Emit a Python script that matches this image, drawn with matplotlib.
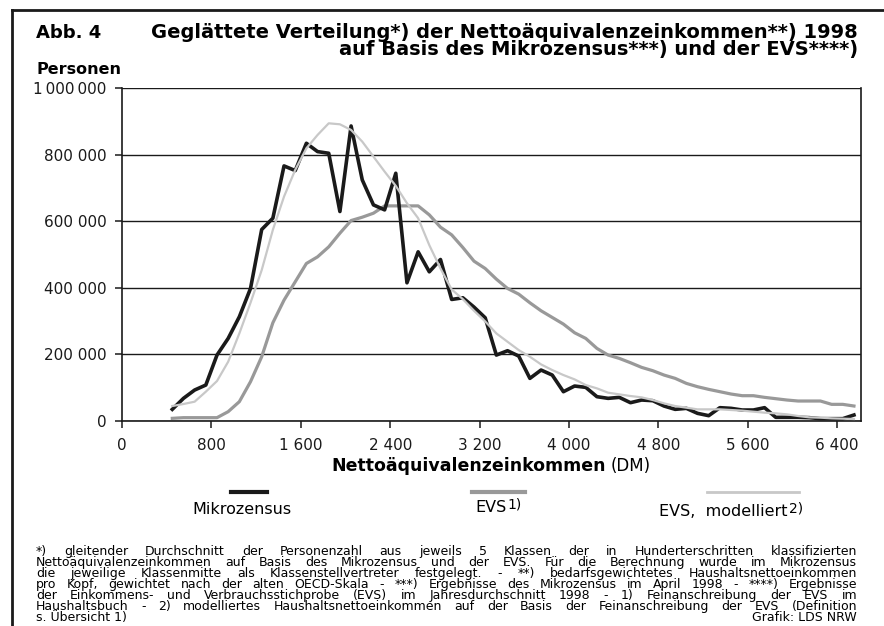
import matplotlib
matplotlib.use("Agg")
import matplotlib.pyplot as plt
from matplotlib.lines import Line2D
from matplotlib.ticker import FuncFormatter

plt.rcParams['font.family'] = ['DejaVu Sans']

# Einkommensklassen (Klassenmitte, DM)
einkommen = [450, 550, 650, 750, 850, 950, 1050, 1150, 1250, 1350,
             1450, 1550, 1650, 1750, 1850, 1950, 2050, 2150, 2250, 2350,
             2450, 2550, 2650, 2750, 2850, 2950, 3050, 3150, 3250, 3350,
             3450, 3550, 3650, 3750, 3850, 3950, 4050, 4150, 4250, 4350,
             4450, 4550, 4650, 4750, 4850, 4950, 5050, 5150, 5250, 5350,
             5450, 5550, 5650, 5750, 5850, 5950, 6050, 6150, 6250, 6350,
             6450, 6550]

# Personen in Tausend
mikrozensus = [35, 68, 93, 108, 198, 248, 313, 398, 575, 609,
               766, 752, 834, 809, 804, 629, 886, 724, 649, 634,
               744, 415, 508, 448, 485, 365, 370, 342, 310, 198,
               211, 195, 128, 153, 138, 88, 105, 101, 73, 68,
               71, 55, 63, 61, 45, 35, 38, 23, 16, 40,
               38, 33, 33, 40, 11, 11, 11, 10, 7, 7,
               7, 18]
evs = [8, 10, 10, 10, 10, 28, 58, 118, 193, 295,
       363, 418, 473, 493, 523, 564, 602, 612, 624, 646,
       646, 646, 646, 619, 582, 559, 521, 480, 458, 426,
       398, 381, 355, 331, 311, 291, 265, 248, 218, 198,
       188, 175, 161, 151, 138, 128, 113, 103, 95, 88,
       81, 76, 76, 71, 67, 63, 60, 60, 60, 50,
       50, 45]
evs_modelliert = [45, 51, 58, 88, 120, 178, 263, 355, 453, 574,
                  674, 754, 819, 859, 894, 891, 874, 839, 794, 749,
                  706, 654, 609, 528, 458, 395, 366, 331, 299, 263,
                  238, 213, 193, 170, 153, 138, 125, 108, 98, 85,
                  80, 75, 71, 63, 53, 45, 40, 35, 35, 35,
                  33, 31, 28, 25, 23, 20, 15, 11, 10, 8,
                  7, 6]

W, H = 884, 626
fig = plt.figure(figsize=(W / 100, H / 100), dpi=100)
renderer = fig.canvas.get_renderer()

def fx(px):
    return px / W

def fy(py):
    return 1 - py / H

def breite(t):
    return t.get_window_extent(renderer).width

ax = fig.add_axes([fx(122), fy(421), fx(861) - fx(122), fy(88) - fy(421)])

tsd = lambda vals: [v * 1000 for v in vals]
ax.plot(einkommen, tsd(evs), color='#999999', lw=2.3, zorder=3)
ax.plot(einkommen, tsd(mikrozensus), color='#1a1a1a', lw=2.6, zorder=4)
ax.plot(einkommen, tsd(evs_modelliert), color='#c8c8c8', lw=1.6, zorder=5)

ax.set_xlim(0, 6613)
ax.set_ylim(0, 1000000)
ax.set_xticks(range(0, 6401, 800))
ax.set_yticks(range(0, 1000001, 200000))
sep = lambda v, pos: f"{int(v):,}".replace(",", "\u2009" if v >= 1000000 else " ")
ax.xaxis.set_major_formatter(FuncFormatter(lambda v, pos: f"{int(v):,}".replace(",", " ")))
ax.yaxis.set_major_formatter(FuncFormatter(sep))
ax.grid(axis='y', color='#1a1a1a', lw=1)
ax.set_axisbelow(True)
for s in ax.spines.values():
    s.set_color('#1a1a1a')
    s.set_linewidth(1.2)
ax.spines['top'].set_visible(False)
ax.tick_params(direction='out', length=5, width=1.1, labelsize=11, colors='#1a1a1a')
ax.tick_params(axis='y', pad=6)
ax.tick_params(axis='x', pad=7)

# Rahmen
fig.add_artist(Line2D([fx(12), 1], [fy(10), fy(10)], color='#1a1a1a', lw=2))
fig.add_artist(Line2D([fx(12), fx(12)], [fy(10), 0], color='#1a1a1a', lw=2))

# Titel
fig.text(fx(36), fy(33), "Abb. 4", fontsize=13, fontweight='bold', va='center')
fig.text(fx(858), fy(33), "Geglättete Verteilung*) der Nettoäquivalenzeinkommen**) 1998",
         fontsize=14, fontweight='bold', va='center', ha='right')
fig.text(fx(858), fy(50), "auf Basis des Mikrozensus***) und der EVS****)",
         fontsize=14, fontweight='bold', va='center', ha='right')
fig.text(fx(36), fy(69), "Personen", fontsize=11.5, fontweight='bold', va='center')

# Achsentitel
fig.text(fx(606), fy(466), "Nettoäquivalenzeinkommen", fontsize=12.5, fontweight='bold',
         va='center', ha='right')
fig.text(fx(611), fy(466), "(DM)", fontsize=12, va='center', ha='left')

# Legende
fig.add_artist(Line2D([fx(231), fx(267)], [fy(492), fy(492)], color='#1a1a1a', lw=3))
fig.text(fx(242), fy(509), "Mikrozensus", fontsize=11.5, va='center', ha='center')
fig.add_artist(Line2D([fx(472), fx(525)], [fy(492), fy(492)], color='#999999', lw=3))
t = fig.text(fx(475), fy(507), "EVS", fontsize=11.5, va='center', ha='left')
fig.text(fx(475 + breite(t) + 1), fy(504), "1)", fontsize=10, va='center', ha='left')
fig.add_artist(Line2D([fx(707), fx(799)], [fy(492), fy(492)], color='#c8c8c8', lw=2))
t = fig.text(fx(659), fy(512), "EVS,  modelliert", fontsize=11.5, va='center', ha='left')
fig.text(fx(659 + breite(t) + 1), fy(509), "2)", fontsize=10, va='center', ha='left')

# Fussnote (Blocksatz)
fussnote = [
    "*) gleitender Durchschnitt der Personenzahl aus jeweils 5 Klassen der in Hunderterschritten klassifizierten",
    "Nettoäquivalenzeinkommen auf Basis des Mikrozensus und der EVS. Für die Berechnung wurde im Mikrozensus",
    "die jeweilige Klassenmitte als Klassenstellvertreter festgelegt. - **) bedarfsgewichtetes Haushaltsnettoeinkommen",
    "pro Kopf, gewichtet nach der alten OECD-Skala - ***) Ergebnisse des Mikrozensus im April 1998 - ****) Ergebnisse",
    "der Einkommens- und Verbrauchsstichprobe (EVS) im Jahresdurchschnitt 1998 - 1) Feinanschreibung der EVS im",
    "Haushaltsbuch - 2) modelliertes Haushaltsnettoeinkommen auf der Basis der Feinanschreibung der EVS (Definition",
]
x0, x1 = 36, 857
# Schriftgroesse so waehlen, dass die laengste Zeile gerade passt
probe = [fig.text(0, 0, z, fontsize=10) for z in fussnote]
groesse = 10 * (x1 - x0) * 0.985 / max(breite(p) for p in probe)
for p in probe:
    p.remove()
groesse = min(groesse, 9.0)

for i, zeile in enumerate(fussnote):
    y = fy(555 + i * 11)
    words = zeile.split()
    objs = [fig.text(0, y, w, fontsize=groesse, va='baseline') for w in words]
    widths = [breite(o) for o in objs]
    gap = ((x1 - x0) - sum(widths)) / (len(words) - 1)
    x = x0
    for o, w in zip(objs, widths):
        o.set_x(fx(x))
        x += w + gap
fig.text(fx(36), fy(621), "s. Übersicht 1)", fontsize=groesse, va='baseline')
fig.text(fx(857), fy(621), "Grafik: LDS NRW", fontsize=groesse, va='baseline', ha='right')

fig.savefig("out.png", dpi=100)
